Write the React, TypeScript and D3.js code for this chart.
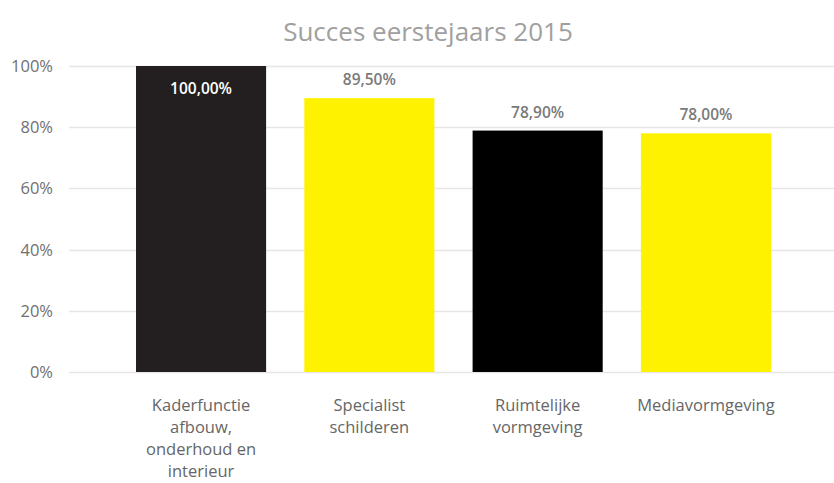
import React from "react";
import * as d3 from "d3";

const categories: string[][] = [
  ["Kaderfunctie", "afbouw,", "onderhoud en", "interieur"],
  ["Specialist", "schilderen"],
  ["Ruimtelijke", "vormgeving"],
  ["Mediavormgeving"],
];
const values: number[] = [1.0, 0.895, 0.789, 0.78];
const labels: string[] = ["100,00%", "89,50%", "78,90%", "78,00%"];
const barColors: string[] = ["#231F20", "#FFF200", "#000000", "#FFF200"];
const yTicks: number[] = [0, 0.2, 0.4, 0.6, 0.8, 1.0];

const W = 834;
const H = 483;
const FONT = "'Segoe UI', 'Open Sans', 'Noto Sans', sans-serif";

export default function App() {
  const y = d3.scaleLinear().domain([0, 1]).range([372, 66]);
  const x = d3
    .scaleBand<number>()
    .domain(d3.range(values.length))
    .range([117, 790])
    .paddingInner(0.227)
    .paddingOuter(0.113);
  const gridLeft = 69;
  const gridRight = 834;
  return (
    <svg
      width={W}
      height={H}
      style={{ position: "absolute", left: 0, top: 0, background: "#fff" }}
      fontFamily={FONT}
    >
      <text x={428} y={41} textAnchor="middle" fontSize={26} fill="#a0a0a0">
        Succes eerstejaars 2015
      </text>
      {yTicks.map((t) => (
        <g key={t}>
          <line
            x1={gridLeft}
            x2={gridRight}
            y1={Math.round(y(t)) + 0.5}
            y2={Math.round(y(t)) + 0.5}
            stroke="#e6e6e6"
            strokeWidth={1.3}
          />
          <text
            x={53}
            y={y(t) + 6}
            textAnchor="end"
            fontSize={16.5}
            fill="#707070"
          >
            {d3.format(".0%")(t)}
          </text>
        </g>
      ))}
      {values.map((v, i) => {
        const bx = x(i)!;
        const bw = x.bandwidth();
        const cx = bx + bw / 2;
        const inside = v >= 0.99;
        return (
          <g key={i}>
            <rect x={bx} y={y(v)} width={bw} height={y(0) - y(v)} fill={barColors[i]} />
            <text
              x={cx}
              y={inside ? y(v) + 28 : y(v) - 13}
              textAnchor="middle"
              fontSize={15.5}
              fontWeight={600}
              fill={inside ? "#ffffff" : "#7a7a7a"}
            >
              {labels[i]}
            </text>
            {categories[i].map((line, j) => (
              <text
                key={j}
                x={cx}
                y={411 + j * 22}
                textAnchor="middle"
                fontSize={16.5}
                fill="#666666"
              >
                {line}
              </text>
            ))}
          </g>
        );
      })}
    </svg>
  );
}
